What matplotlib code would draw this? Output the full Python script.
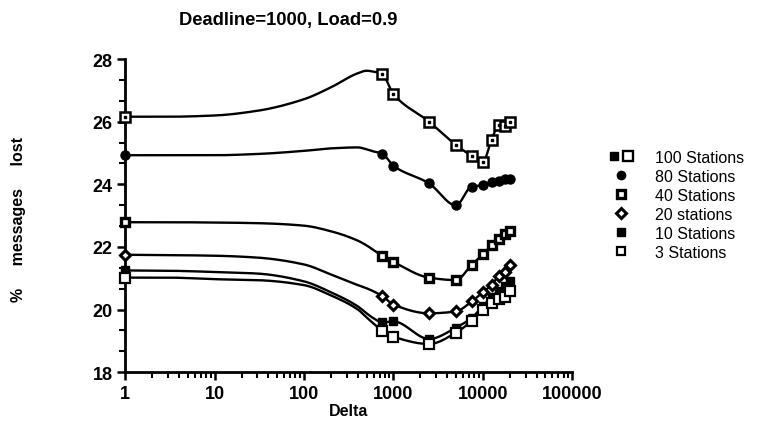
import numpy as np
import matplotlib
matplotlib.use("Agg")
import matplotlib.pyplot as plt
from matplotlib.lines import Line2D
from matplotlib.legend_handler import HandlerTuple
from matplotlib.ticker import FixedLocator, MultipleLocator, LogLocator, NullFormatter, FuncFormatter

plt.rcParams['font.family'] = ['Liberation Sans', 'DejaVu Sans']

# ---- data ----
# unmarked shape points of the smooth curves (x=1 carries a marker)
delta_curve = [1, 3, 10, 30, 100, 200, 400, 500, 600]
# marked measurement points
delta_marks = [750, 1000, 2500, 5000, 7500, 10000, 12500, 15000, 17500, 20000]

labels = ["100 Stations", "80 Stations", "40 Stations", "20 stations", "10 Stations", "3 Stations"]

curve_100 = [26.16, 26.16, 26.20, 26.35, 26.72, 27.10, 27.55, 27.63, 27.60]
curve_80 = [24.93, 24.93, 24.93, 24.97, 25.07, 25.15, 25.18, 25.12, 25.05]
curve_40 = [22.79, 22.79, 22.78, 22.76, 22.68, 22.50, 22.20, 22.05, 21.90]
curve_20 = [21.75, 21.74, 21.72, 21.66, 21.44, 21.12, 20.78, 20.68, 20.58]
curve_10 = [21.25, 21.24, 21.20, 21.15, 20.90, 20.55, 20.10, 19.88, 19.72]
curve_3 = [21.02, 21.02, 20.97, 20.94, 20.78, 20.45, 20.00, 19.75, 19.55]

marks_100 = [27.52, 26.88, 26.00, 25.26, 24.91, 24.72, 25.42, 25.89, 25.85, 26.00]
marks_80 = [24.98, 24.59, 24.03, 23.33, 23.93, 23.97, 24.07, 24.12, 24.16, 24.18]
marks_40 = [21.71, 21.52, 21.02, 20.94, 21.43, 21.76, 22.05, 22.26, 22.40, 22.50]
marks_20 = [20.43, 20.16, 19.88, 19.94, 20.26, 20.55, 20.78, 21.07, 21.20, 21.42]
marks_10 = [19.59, 19.62, 19.06, 19.42, 19.74, 20.11, 20.41, 20.59, 20.75, 20.91]
marks_3 = [19.31, 19.13, 18.90, 19.26, 19.64, 19.99, 20.20, 20.33, 20.41, 20.59]

x_ticks = [1, 10, 100, 1000, 10000, 100000]
y_ticks = [18, 20, 22, 24, 26, 28]


def smooth(xs, ys, n=400):
    """Monotone cubic (Fritsch-Carlson) drawn in log-x space, like the original curve fit."""
    lx = np.log10(np.asarray(xs, float))
    y = np.asarray(ys, float)
    h = np.diff(lx)
    d = np.diff(y) / h
    m = np.zeros_like(y)
    m[0], m[-1] = d[0], d[-1]
    for i in range(1, len(y) - 1):
        if d[i - 1] * d[i] <= 0:
            m[i] = 0.0
        else:
            w1 = 2 * h[i] + h[i - 1]
            w2 = h[i] + 2 * h[i - 1]
            m[i] = (w1 + w2) / (w1 / d[i - 1] + w2 / d[i])
    t = np.linspace(lx[0], lx[-1], n)
    k = np.clip(np.searchsorted(lx, t) - 1, 0, len(lx) - 2)
    s = (t - lx[k]) / h[k]
    h00 = 2 * s**3 - 3 * s**2 + 1
    h10 = s**3 - 2 * s**2 + s
    h01 = -2 * s**3 + 3 * s**2
    h11 = s**3 - s**2
    out = h00 * y[k] + h10 * h[k] * m[k] + h01 * y[k + 1] + h11 * h[k] * m[k + 1]
    return 10 ** t, out


fig = plt.figure(figsize=(7.59, 4.39), dpi=100)
ax = fig.add_axes([0.165, 0.150, 0.589, 0.713])

series = [
    (curve_100, marks_100, dict(marker='s', ms=6.5, mfc='white', mec='black', mew=1.8)),
    (curve_80, marks_80, dict(marker='o', ms=6.5, mfc='black', mec='black', mew=1.0)),
    (curve_40, marks_40, dict(marker='s', ms=6, mfc='white', mec='black', mew=2.4)),
    (curve_20, marks_20, dict(marker='D', ms=5.5, mfc='white', mec='black', mew=2.2)),
    (curve_10, marks_10, dict(marker='s', ms=6, mfc='black', mec='black', mew=1.0)),
    (curve_3, marks_3, dict(marker='s', ms=6.5, mfc='white', mec='black', mew=1.6)),
]

for curve, marks, mstyle in series:
    xs = list(delta_curve) + list(delta_marks)
    ys = list(curve) + list(marks)
    sx, sy = smooth(xs, ys)
    ax.plot(sx, sy, color='black', lw=1.7, solid_capstyle='round', zorder=2)
    ax.plot([delta_curve[0]] + delta_marks, [curve[0]] + marks, ls='none',
            zorder=3, clip_on=False, **mstyle)

# little centre dots of the 100-station squares
ax.plot([delta_curve[0]] + delta_marks, [curve_100[0]] + marks_100, ls='none',
        marker='s', ms=1.8, mfc='black', mec='black', zorder=4, clip_on=False)

ax.set_xscale('log')
ax.set_xlim(1, 100000)
ax.set_ylim(18, 28)

ax.xaxis.set_major_locator(FixedLocator(x_ticks))
ax.xaxis.set_major_formatter(FuncFormatter(lambda v, p: f"{int(round(v))}"))
ax.xaxis.set_minor_locator(LogLocator(base=10, subs=np.arange(2, 10)))
ax.xaxis.set_minor_formatter(NullFormatter())
ax.yaxis.set_major_locator(FixedLocator(y_ticks))
ax.yaxis.set_minor_locator(MultipleLocator(2 / 3))

for side in ('top', 'right'):
    ax.spines[side].set_visible(False)
for side in ('left', 'bottom'):
    ax.spines[side].set_linewidth(2.0)

ax.tick_params(axis='both', which='major', direction='out', length=6, width=1.8,
               labelsize=13, pad=3)
ax.tick_params(axis='both', which='minor', direction='out', length=4, width=1.5)
for lab in ax.get_xticklabels() + ax.get_yticklabels():
    lab.set_fontweight('bold')

ax.set_xlabel("Delta", fontsize=11.5, fontweight='bold', labelpad=1)
fig.text(0.024, 0.50, "%     messages     lost", rotation=90, ha='center', va='center',
         fontsize=11.5, fontweight='bold')
fig.text(0.38, 0.954, "Deadline=1000, Load=0.9", ha='center', va='center',
         fontsize=13.2, fontweight='bold')

# legend
h100 = (Line2D([], [], ls='none', marker='s', ms=5.5, mfc='black', mec='black'),
        Line2D([], [], ls='none', marker='s', ms=6.5, mfc='white', mec='black', mew=1.7))
handles = [h100]
for _, _, mstyle in series[1:]:
    st = dict(mstyle)
    st['ms'] = st['ms'] - 0.5
    handles.append(Line2D([], [], ls='none', **st))
leg = ax.legend(handles, labels, loc='upper left', bbox_to_anchor=(0.8016, 0.656),
                bbox_transform=fig.transFigure, frameon=False, fontsize=11.5,
                handler_map={tuple: HandlerTuple(ndivide=None, pad=0.1)},
                handlelength=1.6, handletextpad=1.3, labelspacing=0.25,
                borderpad=0, borderaxespad=0)

fig.savefig("out.png", dpi=100)
